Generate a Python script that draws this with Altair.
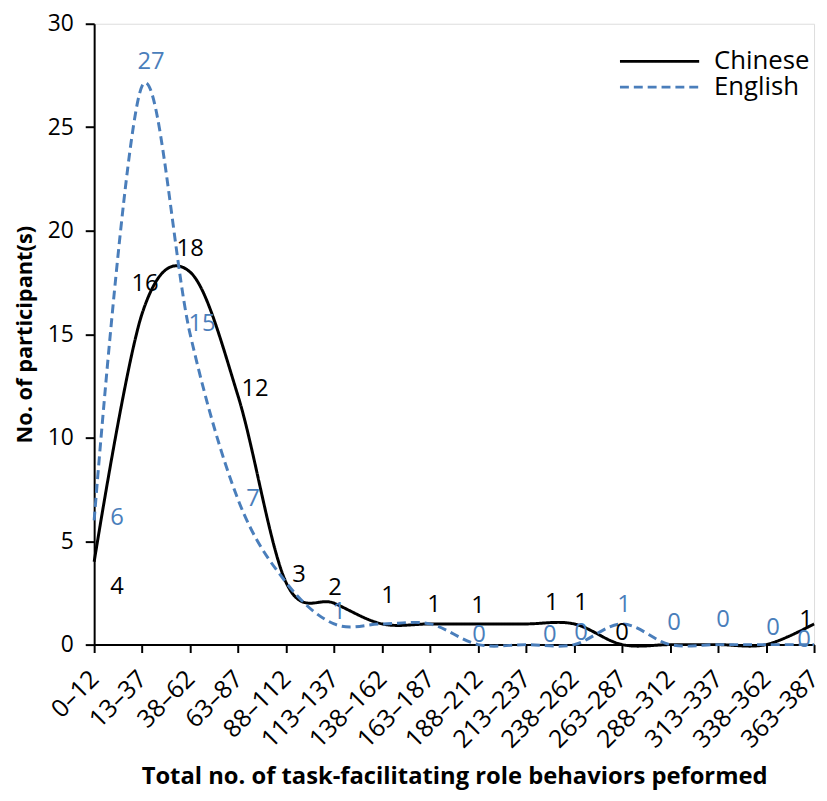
import altair as alt
import pandas as pd

categories = ["0–12", "13–37", "38–62", "63–87", "88–112", "113–137", "138–162",
              "163–187", "188–212", "213–237", "238–262", "263–287", "288–312",
              "313–337", "338–362", "363–387"]
chinese = [4, 16, 18, 12, 3, 2, 1, 1, 1, 1, 1, 0, 0, 0, 0, 1]
english = [6, 27, 15, 7, 3, 1, 1, 1, 0, 0, 0, 1, 0, 0, 0, 0]
series_names = ["Chinese", "English"]

# data-label placement offsets (pixels relative to the point); None = label hidden
chinese_label_dx = [23, 3, 0, 17, 13, 1, 6, 4, 0, 26, 7, 0, None, None, None, -8]
chinese_label_dy = [25, -30, -23, -7, -8, -15, -28, -19, -18, -21, -21, -12, None, None, None, -4]
english_label_dx = [23, 9, 12, 15, None, 5, None, None, 1, 24, 7, 2, 4, 5, 7, -10]
english_label_dy = [-2, -24, -10, -1, None, -12, None, None, -10, -10, -12, -19, -22, -25, -17, -5]

W, H = 727, 627
STEP = W / (len(categories) - 1)
UNIT = H / 30.0
FONT = "Open Sans"

rows = []
for name, vals, dxs, dys in [("Chinese", chinese, chinese_label_dx, chinese_label_dy),
                             ("English", english, english_label_dx, english_label_dy)]:
    for i, (c, v) in enumerate(zip(categories, vals)):
        rows.append({"idx": i, "category": c, "series": name, "value": v,
                     "ldx": dxs[i], "ldy": dys[i]})
df = pd.DataFrame(rows)

label_expr = "[" + ",".join("'" + c + "'" for c in categories) + "][datum.value]"

color_scale = alt.Scale(domain=series_names, range=["#000000", "#4a7ebb"])
dash_scale = alt.Scale(domain=series_names, range=[[1, 0], [9, 5]])

x_enc = alt.X("idx:Q",
              scale=alt.Scale(domain=[0, len(categories) - 1], nice=False, zero=False),
              axis=alt.Axis(values=list(range(len(categories))), labelExpr=label_expr,
                            labelAngle=-45, labelFontSize=25, labelFont=FONT,
                            labelColor="black", labelOverlap=False, labelBound=False,
                            labelAlign="right", labelBaseline="middle",
                            grid=False, tickSize=8, tickWidth=2,
                            tickColor="black", domainColor="black", domainWidth=2,
                            labelPadding=22,
                            title="Total no. of task-facilitating role behaviors peformed",
                            titleFont=FONT, titleFontSize=24, titleFontWeight="bold",
                            titleColor="black", titleBaseline="middle", titleY=133))
y_enc = alt.Y("value:Q",
              scale=alt.Scale(domain=[0, 30], nice=False),
              axis=alt.Axis(values=[0, 5, 10, 15, 20, 25, 30], labelFontSize=23,
                            labelFont=FONT, labelColor="black", grid=False, tickSize=9,
                            tickWidth=2, tickColor="black", domainColor="black",
                            domainWidth=2, labelPadding=12,
                            title="No. of participant(s)", titleFont=FONT,
                            titleFontSize=22, titleFontWeight="bold", titleColor="black",
                            titlePadding=11))

base = alt.Chart(df)

lines = base.mark_line(interpolate="cardinal", strokeWidth=3).encode(
    x=x_enc,
    y=y_enc,
    color=alt.Color("series:N", scale=color_scale,
                    legend=alt.Legend(title=None, orient="none", legendX=558, legendY=25,
                                      labelFont=FONT, labelFontSize=26, labelColor="black",
                                      symbolType="M-4,0L4,0", symbolSize=400,
                                      symbolStrokeWidth=3, labelOffset=42, rowPadding=0,
                                      padding=0)),
    strokeDash=alt.StrokeDash("series:N", scale=dash_scale, legend=None),
    detail="series:N",
)

labels = base.transform_filter("isValid(datum.ldx)").transform_calculate(
    lx=f"datum.idx + datum.ldx / {STEP}",
    ly=f"datum.value - datum.ldy / {UNIT}",
).mark_text(font=FONT, fontSize=24, baseline="middle", align="center").encode(
    x=alt.X("lx:Q"),
    y=alt.Y("ly:Q"),
    text=alt.Text("value:Q"),
    color=alt.Color("series:N", scale=color_scale, legend=None),
)

chart = alt.layer(lines, labels).properties(
    width=W, height=H,
    autosize=alt.AutoSizeParams(type="none"),
    padding={"left": 87, "top": 12, "right": 5, "bottom": 150},
).configure_view(stroke=None).configure(background="white")

chart.save("out.html", embed_options={"renderer": "svg", "actions": False})
